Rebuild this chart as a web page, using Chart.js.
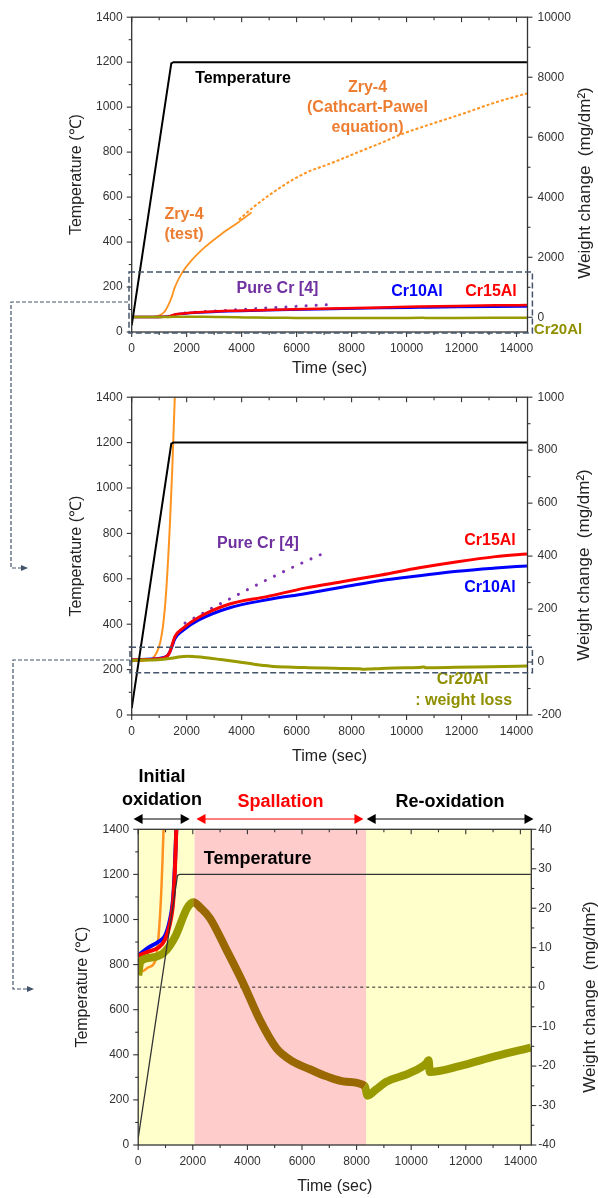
<!DOCTYPE html>
<html><head><meta charset="utf-8">
<script src="https://cdn.jsdelivr.net/npm/chart.js@4.4.1/dist/chart.umd.min.js"></script>
<style>
html,body{margin:0;padding:0;background:#fff;}
#wrap{position:relative;width:598px;height:1198px;overflow:hidden;background:#fff;}
canvas{position:absolute;left:0;}
svg{position:absolute;left:0;top:0;pointer-events:none;}
</style></head><body>
<div id="wrap">
<canvas id="c1" width="598" height="380" style="top:0px"></canvas>
<canvas id="c2" width="598" height="388" style="top:380px"></canvas>
<canvas id="c3" width="598" height="430" style="top:768px"></canvas>
<svg width="598" height="1198">
 <g fill="none" stroke="#44546A" stroke-width="1.5" stroke-dasharray="6 3">
  <rect x="129" y="272" width="403.4" height="61"/>
  <rect x="130" y="647.3" width="402.4" height="25.4"/>
 </g>
 <g fill="none" stroke="#44546A" stroke-width="1.2" stroke-dasharray="4 2">
  <path d="M128 302 H11 V568 H23"/>
  <path d="M130 660 H13 V989 H29"/>
 </g>
 <g fill="#44546A"><path d="M21 565 L28 568 L21 571 Z"/><path d="M27 986 L34 989 L27 992 Z"/></g>
</svg>
</div>
<script>
// ---------- data (time in s, temperature in °C, weight change in mg/dm²) ----------
const timeTicks = [0, 2000, 4000, 6000, 8000, 10000, 12000, 14000];
const timeMinor = [1000, 3000, 5000, 7000, 9000, 11000, 13000];
const tempTicks = [0, 200, 400, 600, 800, 1000, 1200, 1400];
const tempMinor = [100, 300, 500, 700, 900, 1100, 1300];
const wTicksTop = [0, 2000, 4000, 6000, 8000, 10000];
const wMinorTop = [1000, 3000, 5000, 7000, 9000];
const wTicksMid = [-200, 0, 200, 400, 600, 800, 1000];
const wMinorMid = [-100, 100, 300, 500, 700, 900];
const wTicksBot = [-40, -30, -20, -10, 0, 10, 20, 30, 40];
const wMinorBot = [-35, -25, -15, -5, 5, 15, 25, 35];
const phaseEdges = [0, 2066, 8346, 14400];
const phaseArrows = [[-170, 1885], [2135, 8250], [8370, 14480]];

const temperature = [[0, 30], [1440, 1195], [1520, 1200], [4000, 1200], [14380, 1200]];
const zry4Test = [[0, 5], [130, 4], [370, 5], [615, 6.5], [735, 12], [850, 25], [960, 48], [1050, 80],
  [1150, 145], [1250, 260], [1390, 520], [1480, 740], [1570, 1005], [1815, 1455], [2178, 1895],
  [2662, 2336], [3268, 2778], [3872, 3162], [4360, 3490]];
const zry4CP = [[3900, 3250], [4400, 3650], [5500, 4380], [6300, 4800], [7300, 5150], [8500, 5600],
  [9100, 5820], [9900, 6130], [11000, 6470], [12100, 6800], [13200, 7150], [14380, 7460]];
const pureCr = [[1940, 147], [3000, 208], [4000, 262], [5000, 315], [6000, 365], [7137, 418]];
const cr15Al = [[0, 8], [370, 9], [735, 10], [980, 12], [1160, 16], [1285, 22], [1346, 30], [1395, 40],
  [1480, 68], [1570, 96], [1870, 128], [2426, 168], [3535, 218], [4921, 247], [6307, 279], [7693, 304],
  [9080, 329], [10466, 356], [11852, 379], [13238, 398], [14380, 408]];
const cr10Al = [[0, 8], [370, 10], [735, 11.5], [980, 13], [1160, 17], [1285, 23], [1346, 31], [1395, 40],
  [1480, 63], [1570, 88], [1870, 120], [2426, 158], [3535, 204], [4921, 235], [6307, 258], [7693, 283],
  [9080, 308], [10466, 326], [11852, 343], [13238, 355], [14380, 363]];
const cr20Al = [[0, 3], [80, 6.5], [500, 7.5], [950, 8.8], [1370, 13], [1790, 20], [2016, 21.5], [2300, 20],
  [2626, 17.5], [3237, 9.4], [3845, 1], [4455, -8.3], [5066, -15.5], [5673, -18.9], [6284, -20.8],
  [6895, -22.6], [7626, -24], [8300, -25], [8400, -27.5], [8700, -26], [9089, -24], [9942, -21.8],
  [10552, -19.3], [10640, -18.5], [10680, -21.5], [11770, -20], [13093, -17.5], [14380, -15.3]];

// ---------- helpers ----------
const FONT = "'Liberation Sans', Arial, sans-serif";
Chart.defaults.font.family = FONT;
const xy = arr => arr.map(p => ({x: p[0], y: p[1]}));
const setTicks = vals => s => { s.ticks = vals.map(v => ({value: v})); };

const decoPlugin = {
  id: 'deco',
  beforeDatasetsDraw(chart, args, o) {
    const {ctx, chartArea: a, scales} = chart;
    ctx.save();
    (o.bands || []).forEach(b => {
      const x1 = Math.max(a.left, scales.x.getPixelForValue(b.from));
      const x2 = Math.min(a.right, scales.x.getPixelForValue(b.to));
      ctx.fillStyle = b.color;
      ctx.fillRect(x1, a.top, x2 - x1, a.bottom - a.top);
    });
    if (o.zeroLine) {
      const y = scales.y2.getPixelForValue(0);
      ctx.strokeStyle = '#222'; ctx.lineWidth = 1; ctx.setLineDash([3, 3]);
      ctx.beginPath(); ctx.moveTo(a.left, y); ctx.lineTo(a.right, y); ctx.stroke();
    }
    ctx.restore();
  },
  afterDraw(chart, args, o) {
    const {ctx, chartArea: a, scales} = chart;
    ctx.save();
    ctx.strokeStyle = '#333'; ctx.lineWidth = 1.3;
    ctx.strokeRect(a.left, a.top, a.right - a.left, a.bottom - a.top);
    const mark = (scale, vals, len, side) => vals.forEach(v => {
      if (v < scale.min || v > scale.max) return;
      const p = scale.getPixelForValue(v);
      ctx.beginPath();
      if (side === 'bottom') { ctx.moveTo(p, a.bottom); ctx.lineTo(p, a.bottom + len); }
      else if (side === 'top') { ctx.moveTo(p, a.top); ctx.lineTo(p, a.top + len); }
      else if (side === 'left') { ctx.moveTo(a.left, p); ctx.lineTo(a.left - len, p); }
      else { ctx.moveTo(a.right, p); ctx.lineTo(a.right + len, p); }
      ctx.stroke();
    });
    ctx.lineWidth = 1.1;
    const t = o.tickSets;
    mark(scales.x, t.xMaj, 5, 'bottom'); mark(scales.x, t.xMin, 3, 'bottom');
    mark(scales.x, t.xMaj, 5, 'top'); mark(scales.x, t.xMin, 3, 'top');
    mark(scales.y, t.yMaj, 5, 'left'); mark(scales.y, t.yMin, 3, 'left');
    mark(scales.y2, t.y2Maj, 5, 'right'); mark(scales.y2, t.y2Min, 3, 'right');
    (o.arrows || []).forEach(ar => {
      const x1 = scales.x.getPixelForValue(ar.from), x2 = scales.x.getPixelForValue(ar.to), y = ar.y;
      ctx.strokeStyle = ar.color; ctx.fillStyle = ar.color; ctx.lineWidth = 1.2;
      ctx.beginPath(); ctx.moveTo(x1 + 6, y); ctx.lineTo(x2 - 6, y); ctx.stroke();
      ctx.beginPath(); ctx.moveTo(x1, y); ctx.lineTo(x1 + 9, y - 5); ctx.lineTo(x1 + 9, y + 5); ctx.closePath(); ctx.fill();
      ctx.beginPath(); ctx.moveTo(x2, y); ctx.lineTo(x2 - 9, y - 5); ctx.lineTo(x2 - 9, y + 5); ctx.closePath(); ctx.fill();
    });
    ctx.textAlign = 'center'; ctx.textBaseline = 'middle';
    (o.texts || []).forEach(tx => {
      ctx.fillStyle = tx.c;
      ctx.font = (tx.w || 'bold') + ' ' + tx.s + 'px ' + FONT;
      ctx.fillText(tx.t, tx.x, tx.y);
    });
    if (o.rightTitle) {
      const r = o.rightTitle;
      ctx.save();
      ctx.translate(r.x, r.y); ctx.rotate(-Math.PI / 2);
      ctx.fillStyle = '#222'; ctx.font = r.s + 'px ' + FONT;
      ctx.fillText(r.t, 0, 0);
      ctx.restore();
    }
    ctx.restore();
  }
};

function buildDatasets(st) {
  const line = (label, data, color, w, yAxisID, extra) => Object.assign({
    label, data: xy(data), borderColor: color, borderWidth: w, yAxisID,
    pointRadius: 0, fill: false, cubicInterpolationMode: 'monotone', tension: 0.4
  }, extra || {});
  const oliveSeg = st.spallColor ? {segment: {borderColor: c => {
    const m = (c.p0.parsed.x + c.p1.parsed.x) / 2;
    return (m > phaseEdges[1] && m < phaseEdges[2]) ? st.spallColor : '#999900';
  }}} : {};
  return [
    line('Temperature', temperature, st.tempColor, st.temp, 'y', {cubicInterpolationMode: 'default', tension: 0}),
    line('Cr20Al', cr20Al, '#999900', st.olive, 'y2', Object.assign({borderJoinStyle: 'round'}, oliveSeg)),
    line('Cr15Al', cr15Al, '#FF0000', st.red, 'y2'),
    line('Cr10Al', cr10Al, '#0000FF', st.blue, 'y2'),
    line('Pure Cr [4]', pureCr, '#7F35B2', 3, 'y2', {borderDash: [0.1, 10], borderCapStyle: 'round', tension: 0, cubicInterpolationMode: 'default'}),
    line('Zry-4 (test)', zry4Test, '#FF9320', st.orange, 'y2'),
    line('Zry-4 (Cathcart-Pawel)', zry4CP, '#FF9320', 2, 'y2', {borderDash: [3, 2]})
  ];
}

function makeChart(id, p) {
  const c = document.getElementById(id);
  const H = c.height, W = c.width;
  return new Chart(c, {
    type: 'line',
    data: {datasets: buildDatasets(p.style)},
    plugins: [decoPlugin],
    options: {
      responsive: false, animation: false, devicePixelRatio: 1,
      layout: {padding: {left: p.padLeft, top: p.areaTop, right: 0, bottom: 0}},
      plugins: {
        legend: {display: false}, tooltip: {enabled: false},
        deco: {
          tickSets: {xMaj: timeTicks, xMin: timeMinor, yMaj: tempTicks, yMin: tempMinor, y2Maj: p.wTicks, y2Min: p.wMinor},
          bands: p.bands, zeroLine: p.zeroLine, arrows: p.arrows, texts: p.texts, rightTitle: p.rightTitle
        }
      },
      scales: {
        x: {
          type: 'linear', min: 0, max: 14400,
          afterBuildTicks: setTicks(timeTicks),
          afterFit: s => { s.height = H - p.areaBottom; },
          ticks: {font: {size: 12}, color: '#333', padding: 9, maxRotation: 0, autoSkip: false, callback: v => String(v)},
          grid: {display: false, drawTicks: false}, border: {display: false},
          title: {display: true, text: 'Time (sec)', font: {size: 16}, color: '#222', padding: {top: 0, bottom: 2}}
        },
        y: {
          type: 'linear', position: 'left', min: 0, max: 1400,
          afterBuildTicks: setTicks(tempTicks),
          afterFit: s => { s.width = p.areaLeft - p.padLeft; },
          ticks: {font: {size: 12}, color: '#333', padding: 9, autoSkip: false, callback: v => String(v)},
          grid: {display: false, drawTicks: false}, border: {display: false},
          title: {display: true, text: 'Temperature (\u2103)', font: {size: 16}, color: '#222', padding: {top: 4, bottom: 0}}
        },
        y2: {
          type: 'linear', position: 'right', min: p.wMin, max: p.wMax,
          afterBuildTicks: setTicks(p.wTicks),
          afterFit: s => { s.width = W - p.areaRight; },
          ticks: {font: {size: 12}, color: '#333', padding: p.rightPad, autoSkip: false, callback: v => String(v)},
          grid: {display: false, drawTicks: false}, border: {display: false}
        }
      }
    }
  });
}

const ORANGE_T = '#ED7D31', PURPLE_T = '#7030A0', OLIVE_T = '#8F8F00';

makeChart('c1', {
  padLeft: 63, areaLeft: 131.7, areaRight: 527.5, areaTop: 15, areaBottom: 332,
  wMin: -490, wMax: 10000, wTicks: wTicksTop, wMinor: wMinorTop, rightPad: 10,
  style: {temp: 2, tempColor: '#000', olive: 2.5, red: 2.5, blue: 2.5, orange: 1.8},
  texts: [
    {t: 'Temperature', x: 243, y: 79, c: '#000', s: 16},
    {t: 'Zry-4', x: 367.5, y: 88, c: ORANGE_T, s: 16},
    {t: '(Cathcart-Pawel', x: 367.5, y: 108, c: ORANGE_T, s: 16},
    {t: 'equation)', x: 367.5, y: 128, c: ORANGE_T, s: 16},
    {t: 'Zry-4', x: 184, y: 215, c: ORANGE_T, s: 16},
    {t: '(test)', x: 184, y: 235, c: ORANGE_T, s: 16},
    {t: 'Pure Cr [4]', x: 277.5, y: 289, c: PURPLE_T, s: 16},
    {t: 'Cr10Al', x: 417, y: 292, c: '#0000FF', s: 16},
    {t: 'Cr15Al', x: 491, y: 292, c: '#FF0000', s: 16},
    {t: 'Cr20Al', x: 558, y: 330, c: OLIVE_T, s: 15}
  ],
  rightTitle: {t: 'Weight change  (mg/dm\u00B2)', x: 585, y: 183, s: 17}
});

makeChart('c2', {
  padLeft: 63, areaLeft: 131.7, areaRight: 527.5, areaTop: 16.7, areaBottom: 335,
  wMin: -200, wMax: 1000, wTicks: wTicksMid, wMinor: wMinorMid, rightPad: 10,
  style: {temp: 2, tempColor: '#000', olive: 3, red: 3, blue: 3, orange: 2},
  texts: [
    {t: 'Pure Cr [4]', x: 258, y: 164, c: PURPLE_T, s: 16},
    {t: 'Cr15Al', x: 490, y: 161, c: '#FF0000', s: 16},
    {t: 'Cr10Al', x: 490, y: 208, c: '#0000FF', s: 16},
    {t: 'Cr20Al', x: 462.6, y: 300, c: OLIVE_T, s: 16},
    {t: ': weight loss', x: 463.7, y: 321, c: OLIVE_T, s: 16}
  ],
  rightTitle: {t: 'Weight change  (mg/dm\u00B2)', x: 584, y: 185, s: 17}
});

makeChart('c3', {
  padLeft: 69, areaLeft: 138.2, areaRight: 531.3, areaTop: 61.3, areaBottom: 377,
  wMin: -40, wMax: 40, wTicks: wTicksBot, wMinor: wMinorBot, rightPad: 7,
  style: {temp: 1.3, tempColor: '#333', olive: 8, red: 4, blue: 4, orange: 2.5, spallColor: '#9A6800'},
  bands: [
    {from: phaseEdges[0], to: phaseEdges[1], color: '#FFFFCC'},
    {from: phaseEdges[1], to: phaseEdges[2], color: '#FFCCCC'},
    {from: phaseEdges[2], to: phaseEdges[3], color: '#FFFFCC'}
  ],
  zeroLine: true,
  arrows: [
    {from: phaseArrows[0][0], to: phaseArrows[0][1], y: 51, color: '#000'},
    {from: phaseArrows[1][0], to: phaseArrows[1][1], y: 51, color: '#FF0000'},
    {from: phaseArrows[2][0], to: phaseArrows[2][1], y: 51, color: '#000'}
  ],
  texts: [
    {t: 'Initial', x: 162, y: 9, c: '#000', s: 18},
    {t: 'oxidation', x: 162, y: 32, c: '#000', s: 18},
    {t: 'Spallation', x: 280.5, y: 34, c: '#FF0000', s: 18},
    {t: 'Re-oxidation', x: 450, y: 34, c: '#000', s: 18},
    {t: 'Temperature', x: 257.6, y: 91, c: '#000', s: 18}
  ],
  rightTitle: {t: 'Weight change  (mg/dm\u00B2)', x: 590, y: 229, s: 17}
});
</script>
</body></html>
